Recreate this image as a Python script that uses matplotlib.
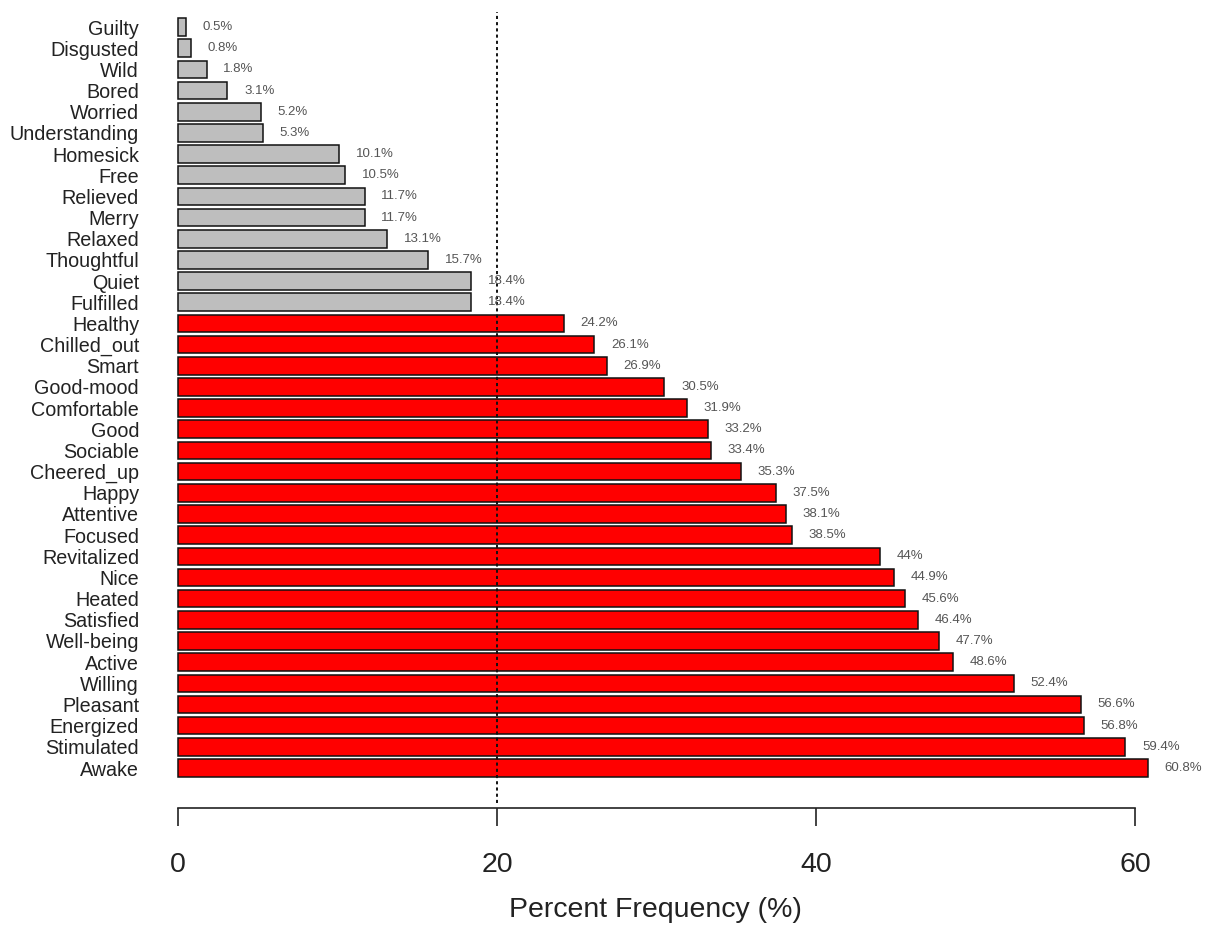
import numpy as np
import matplotlib
matplotlib.use("Agg")
import matplotlib.pyplot as plt

plt.rcParams['font.family'] = ['Liberation Sans', 'DejaVu Sans']

# feelings, listed top to bottom as in the chart
feelings = ["Guilty", "Disgusted", "Wild", "Bored", "Worried", "Understanding",
            "Homesick", "Free", "Relieved", "Merry", "Relaxed", "Thoughtful",
            "Quiet", "Fulfilled", "Healthy", "Chilled_out", "Smart", "Good-mood",
            "Comfortable", "Good", "Sociable", "Cheered_up", "Happy", "Attentive",
            "Focused", "Revitalized", "Nice", "Heated", "Satisfied", "Well-being",
            "Active", "Willing", "Pleasant", "Energized", "Stimulated", "Awake"]
percent = [0.5, 0.8, 1.8, 3.1, 5.2, 5.3,
           10.1, 10.5, 11.7, 11.7, 13.1, 15.7,
           18.4, 18.4, 24.2, 26.1, 26.9, 30.5,
           31.9, 33.2, 33.4, 35.3, 37.5, 38.1,
           38.5, 44, 44.9, 45.6, 46.4, 47.7,
           48.6, 52.4, 56.6, 56.8, 59.4, 60.8]
cutoff = 20
xticks = [0, 20, 40, 60]

W, H = 1215, 930
fig = plt.figure(figsize=(W / 100, H / 100), dpi=100)

# axes placed in pixel terms: x=0 at 178px, 16px per unit; plot top 12px, bottom 803px
ppu = 15.95
x0 = 178
left_px = x0 - ppu
ax = fig.add_axes([left_px / W, (H - 803) / H, (W - left_px) / W, (803 - 12) / H])
ax.set_xlim(-1, (W - left_px) / ppu - 1)

n = len(feelings)
ypos = np.arange(n)[::-1]          # Guilty on top
step = 21.17
ax.set_ylim(-35 / step, (768 - 12) / step)

colors = ["#FF0000" if v >= cutoff else "#BEBEBE" for v in percent]
ax.barh(ypos, percent, height=0.83, color=colors, edgecolor="#111111", linewidth=1.1)

for y, v in zip(ypos, percent):
    ax.annotate("%g%%" % v, (v, y), xytext=(12, 0), textcoords="offset points",
                va="center", ha="left", fontsize=9.5, color="#555555")

ax.axvline(cutoff, color="#111111", linestyle=(0, (1.6, 1.6)), linewidth=1.4)

ax.set_yticks(ypos)
ax.set_yticklabels(feelings)
ax.tick_params(axis="y", length=0, pad=(left_px - 139) * 0.72,
               labelsize=14.2, labelcolor="#222222")

ax.set_xticks(xticks)
ax.set_xticklabels([str(t) for t in xticks])
ax.tick_params(axis="x", length=13, width=1.2, pad=19, color="#222222",
               labelsize=20.5, labelcolor="#222222")

for s in ["top", "right", "left"]:
    ax.spines[s].set_visible(False)
ax.spines["bottom"].set_bounds(xticks[0], xticks[-1])
ax.spines["bottom"].set_position(("outward", 3.6))
ax.spines["bottom"].set_linewidth(1.2)
ax.spines["bottom"].set_color("#222222")

fig.text(655 / W, (H - 910) / H, "Percent Frequency (%)", ha="center", va="center",
         fontsize=20.5, color="#222222")

fig.savefig("out.png", dpi=100)
